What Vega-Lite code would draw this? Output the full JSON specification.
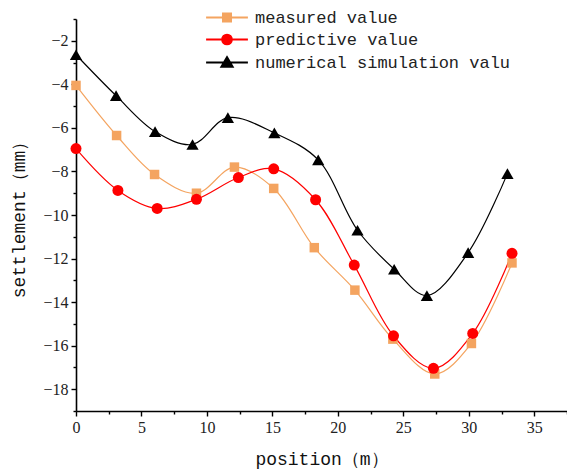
{
  "$schema": "https://vega.github.io/schema/vega-lite/v6.json",
  "width": 491,
  "height": 392,
  "autosize": {"type": "none"},
  "padding": {"left": 76, "top": 19, "right": 0, "bottom": 60},
  "background": "white",
  "config": {
    "view": {"stroke": null},
    "axis": {
      "grid": false,
      "domainColor": "#000000",
      "domainWidth": 1.6,
      "tickColor": "#000000",
      "tickWidth": 1.4,
      "labelFont": "Liberation Serif",
      "labelFontSize": 16,
      "labelColor": "#222222",
      "labelPadding": 3,
      "titleFont": "Liberation Mono",
      "titleFontSize": 18,
      "titleFontWeight": "normal",
      "titleColor": "#111111"
    }
  },
  "data": {
    "values": [
      {"series": "measured value", "x": 0, "y": -4.05},
      {"series": "measured value", "x": 3.1, "y": -6.35},
      {"series": "measured value", "x": 6.0, "y": -8.14},
      {"series": "measured value", "x": 9.2, "y": -9.0},
      {"series": "measured value", "x": 12.1, "y": -7.8},
      {"series": "measured value", "x": 15.1, "y": -8.78},
      {"series": "measured value", "x": 18.2, "y": -11.5},
      {"series": "measured value", "x": 21.3, "y": -13.45},
      {"series": "measured value", "x": 24.2, "y": -15.7},
      {"series": "measured value", "x": 27.4, "y": -17.3},
      {"series": "measured value", "x": 30.2, "y": -15.9},
      {"series": "measured value", "x": 33.3, "y": -12.2},
      {"series": "predictive value", "x": 0, "y": -6.95},
      {"series": "predictive value", "x": 3.2, "y": -8.87},
      {"series": "predictive value", "x": 6.2, "y": -9.7},
      {"series": "predictive value", "x": 9.2, "y": -9.28},
      {"series": "predictive value", "x": 12.4, "y": -8.28},
      {"series": "predictive value", "x": 15.1, "y": -7.88},
      {"series": "predictive value", "x": 18.3, "y": -9.3},
      {"series": "predictive value", "x": 21.25, "y": -12.3},
      {"series": "predictive value", "x": 24.25, "y": -15.55},
      {"series": "predictive value", "x": 27.3, "y": -17.04},
      {"series": "predictive value", "x": 30.3, "y": -15.44},
      {"series": "predictive value", "x": 33.3, "y": -11.76},
      {"series": "numerical simulation valu", "x": 0, "y": -2.64},
      {"series": "numerical simulation valu", "x": 3.06, "y": -4.52},
      {"series": "numerical simulation valu", "x": 6.04, "y": -6.17},
      {"series": "numerical simulation valu", "x": 8.9, "y": -6.76},
      {"series": "numerical simulation valu", "x": 11.6, "y": -5.53},
      {"series": "numerical simulation valu", "x": 15.15, "y": -6.23},
      {"series": "numerical simulation valu", "x": 18.5, "y": -7.47},
      {"series": "numerical simulation valu", "x": 21.5, "y": -10.7},
      {"series": "numerical simulation valu", "x": 24.3, "y": -12.49},
      {"series": "numerical simulation valu", "x": 26.8, "y": -13.7},
      {"series": "numerical simulation valu", "x": 29.95, "y": -11.73},
      {"series": "numerical simulation valu", "x": 32.95, "y": -8.1}
    ]
  },
  "encoding": {
    "x": {
      "field": "x",
      "type": "quantitative",
      "scale": {"domain": [0, 37.5], "nice": false, "zero": false},
      "axis": {
        "title": "position（m）",
        "values": [0, 2.5, 5, 7.5, 10, 12.5, 15, 17.5, 20, 22.5, 25, 27.5, 30, 32.5, 35, 37.5],
        "labelExpr": "datum.value % 5 === 0 ? datum.label : ''",
        "tickSize": {"condition": {"test": "datum.value % 5 !== 0", "value": 3}, "value": 5},
        "labelFlush": false,
        "titlePadding": 15
      }
    },
    "y": {
      "field": "y",
      "type": "quantitative",
      "scale": {"domain": [-19, -1], "nice": false, "zero": false},
      "axis": {
        "title": "settlement（mm）",
        "values": [-19, -18, -17, -16, -15, -14, -13, -12, -11, -10, -9, -8, -7, -6, -5, -4, -3, -2, -1],
        "labelExpr": "datum.value % 2 === 0 ? datum.label : ''",
        "tickSize": {"condition": {"test": "datum.value % 2 !== 0", "value": 3}, "value": 5},
        "labelFlush": false,
        "titlePadding": 14
      }
    }
  },
  "layer": [
    {
      "mark": {"type": "line", "interpolate": "catmull-rom", "strokeWidth": 1.2},
      "encoding": {
        "color": {
          "field": "series",
          "type": "nominal",
          "scale": {
            "domain": ["measured value", "predictive value", "numerical simulation valu"],
            "range": ["#F4A460", "#FF0000", "#000000"]
          },
          "legend": {
            "title": null,
            "orient": "none",
            "legendX": 142.5,
            "legendY": -10,
            "padding": 0,
            "labelFont": "Liberation Mono",
            "labelFontSize": 17,
            "labelColor": "#222222",
            "labelOffset": 19.5,
            "labelLimit": 400,
            "rowPadding": 4,
            "symbolSize": 121,
            "encode": {
              "symbols": {
                "update": {
                  "shape": {"signal": "datum.value === 'measured value' ? 'M-3.8,0H3.8M-0.75,-0.75H0.75V0.75H-0.75Z' : datum.value === 'predictive value' ? 'M-3.8,0H3.8M-0.9,0A0.9,0.9,0,1,0,0.9,0A0.9,0.9,0,1,0,-0.9,0Z' : 'M-3.8,0H3.8M0,-1L1.05,0.8H-1.05Z'"},
                  "size": {"value": 121},
                  "fill": {"signal": "datum.value === 'measured value' ? '#F4A460' : datum.value === 'predictive value' ? '#FF0000' : '#000000'"},
                  "stroke": {"signal": "datum.value === 'measured value' ? '#F9C79A' : datum.value === 'predictive value' ? '#FF0000' : '#555555'"},
                  "strokeWidth": {"value": 1.8},
                  "opacity": {"value": 1},
                  "fillOpacity": {"value": 1},
                  "strokeOpacity": {"value": 1}
                }
              }
            }
          }
        }
      }
    },
    {
      "transform": [{"filter": "datum.series === 'measured value'"}],
      "mark": {"type": "point", "filled": true, "opacity": 1, "shape": "square", "size": 90, "color": "#F4A460"}
    },
    {
      "transform": [{"filter": "datum.series === 'predictive value'"}],
      "mark": {"type": "point", "filled": true, "opacity": 1, "shape": "circle", "size": 121, "color": "#FF0000"}
    },
    {
      "transform": [{"filter": "datum.series === 'numerical simulation valu'"}],
      "mark": {"type": "point", "filled": true, "opacity": 1, "shape": "triangle-up", "size": 150, "color": "#000000"}
    }
  ]
}
